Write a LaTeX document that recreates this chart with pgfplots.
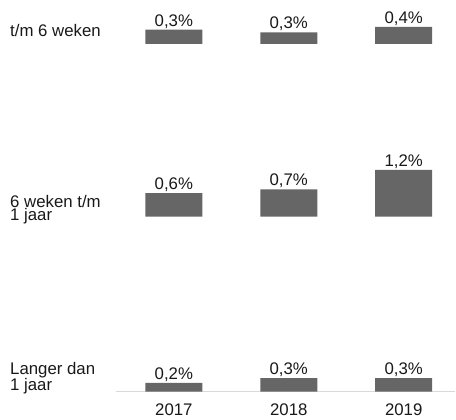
\documentclass[border=0pt]{standalone}
\usepackage{pgfplots}
\pgfplotsset{compat=1.18}
\usepackage{fontspec}
\setmainfont{Liberation Sans}
\definecolor{barc}{RGB}{102,102,102}
\definecolor{txt}{RGB}{25,25,25}
\pgfplotsset{rowax/.style={
  scale only axis, x=115pt, y=38.9pt,
  xmin=-0.5, xmax=2.45, ymin=0, ymax=1.3,
  ybar, bar width=57pt, bar shift=0pt,
  anchor=south west, clip=false,
  nodes near coords, point meta=explicit symbolic,
  nodes near coords style={font=\fontsize{16.8}{16.8}\selectfont, text=txt, anchor=base, yshift=3.5pt, inner sep=0pt},
  /pgf/number format/assume math mode=true,
}}
\begin{document}
\begin{tikzpicture}[x=1pt,y=1pt]
\path (0,0) rectangle (456,417);
% Row 1
\begin{axis}[rowax, at={(116.5pt,373pt)}, axis lines=none]
\addplot[fill=barc, draw=none] coordinates {(0,0.37)[0,3\%] (1,0.30)[0,3\%] (2,0.44)[0,4\%]};
\end{axis}
% Row 2
\begin{axis}[rowax, at={(116.5pt,200.3pt)}, axis lines=none]
\addplot[fill=barc, draw=none] coordinates {(0,0.60)[0,6\%] (1,0.70)[0,7\%] (2,1.20)[1,2\%]};
\end{axis}
% Row 3
\begin{axis}[rowax, at={(116.5pt,25pt)}, axis x line=bottom, axis y line=none,
  x axis line style={draw=black!15, line width=1.2pt, -},
  xtick={0,1,2}, xticklabels={2017,2018,2019}, major tick length=0pt,
  xticklabel style={font=\fontsize{16.8}{16.8}\selectfont, text=txt, anchor=base, yshift=-24pt}]
\addplot[fill=barc, draw=none] coordinates {(0,0.23)[0,2\%] (1,0.35)[0,3\%] (2,0.35)[0,3\%]};
\end{axis}
% Row labels
\begin{scope}[every node/.style={font=\fontsize{16.8}{13}\selectfont, text=txt, anchor=base west, inner sep=0pt, align=left}]
\node at (10,380) {t/m 6 weken};
\node at (10,196) {6 weken t/m\\1 jaar};
\node at (10,26) {Langer dan\\1 jaar};
\end{scope}
\end{tikzpicture}
\end{document}
